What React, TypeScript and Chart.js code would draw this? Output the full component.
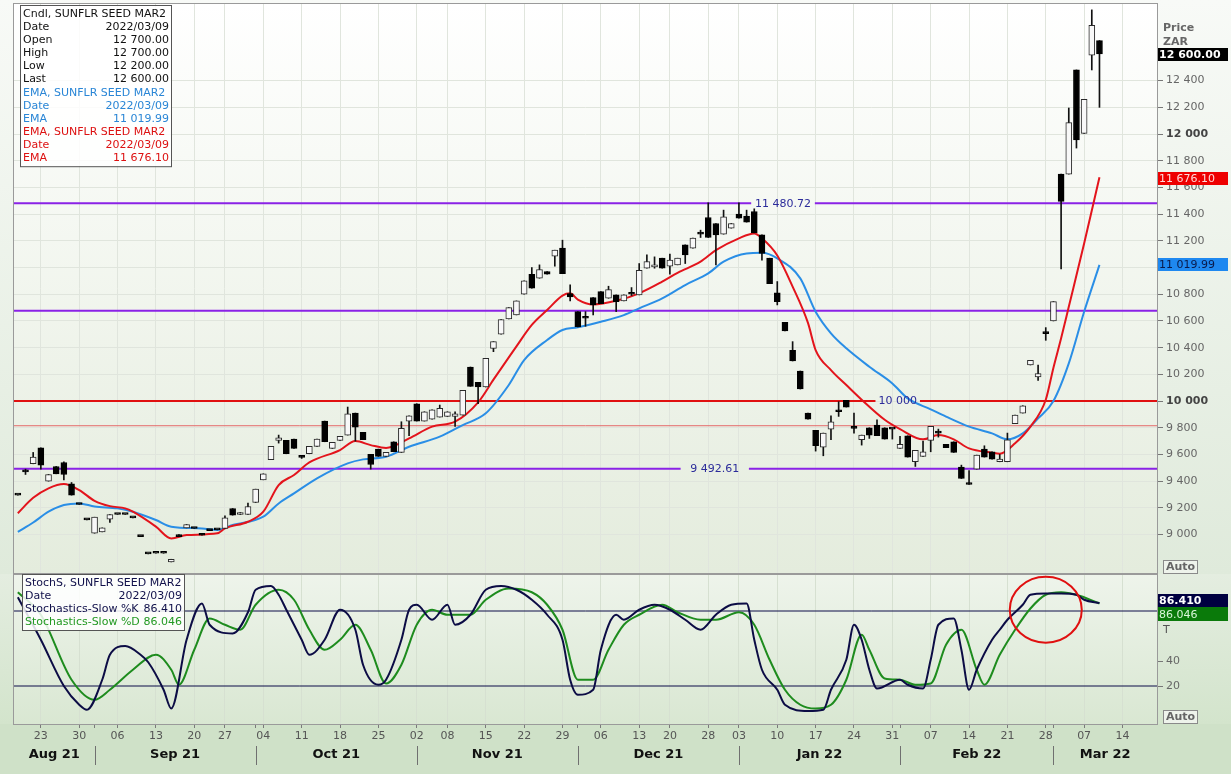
import React, { useEffect, useRef } from 'react';
import { Chart, registerables } from 'chart.js';

Chart.register(...registerables);

const FONT = '"DejaVu Sans", Verdana, sans-serif';

// ---- calendar (trading days) ----
const MONTH_NAMES = ['Aug 21', 'Sep 21', 'Oct 21', 'Nov 21', 'Dec 21', 'Jan 22', 'Feb 22', 'Mar 22'];
const MONTH_NUMBERS = [8, 9, 10, 11, 12, 1, 2, 3];
const DAYS_AUG = [18, 19, 20, 23, 24, 25, 26, 27, 30, 31];
const DAYS_SEP = [1, 2, 3, 6, 7, 8, 9, 10, 13, 14, 15, 16, 17, 20, 21, 22, 23, 27, 28, 29, 30];
const DAYS_OCT = [1, 4, 5, 6, 7, 8, 11, 12, 13, 14, 15, 18, 19, 20, 21, 22, 25, 26, 27, 28, 29];
const DAYS_NOV = [2, 3, 4, 5, 8, 9, 10, 11, 12, 15, 16, 17, 18, 19, 22, 23, 24, 25, 26, 29, 30];
const DAYS_DEC = [1, 2, 3, 6, 7, 8, 9, 10, 13, 14, 15, 17, 20, 21, 22, 23, 24, 28, 29, 30, 31];
const DAYS_JAN = [3, 4, 5, 6, 7, 10, 11, 12, 13, 14, 17, 18, 19, 20, 21, 24, 25, 26, 27, 28, 31];
const DAYS_FEB = [1, 2, 3, 4, 7, 8, 9, 10, 11, 14, 15, 16, 17, 18, 21, 22, 23, 24, 25, 28];
const DAYS_MAR = [1, 2, 3, 4, 7, 8, 9, 10, 11, 14, 15, 16, 17, 18];
const MONTH_DAYS = [DAYS_AUG, DAYS_SEP, DAYS_OCT, DAYS_NOV, DAYS_DEC, DAYS_JAN, DAYS_FEB, DAYS_MAR];

// weekly tick labels (month, day)
const WEEK_TICKS: [number, number][] = [
  [8, 23], [8, 30], [9, 6], [9, 13], [9, 20], [9, 27], [10, 4], [10, 11], [10, 18], [10, 25],
  [11, 2], [11, 8], [11, 15], [11, 22], [11, 29], [12, 6], [12, 13], [12, 20], [12, 28],
  [1, 3], [1, 10], [1, 17], [1, 24], [1, 31], [2, 7], [2, 14], [2, 21], [2, 28], [3, 7], [3, 14],
];

// ---- candles (Aug 18 2021 .. Mar 9 2022) ----
const OPEN = [
  9295, 9470, 9530, 9650, 9400, 9510, 9540, 9380, 9225, 9110,
  9010, 9020, 9115, 9150, 9150, 9125, 8985, 8855, 8860, 8860,
  8795, 9000, 9050, 9045, 9010, 9030, 9035, 9045, 9195, 9150,
  9150, 9240, 9410, 9560, 9705, 9705, 9715, 9578, 9605, 9660,
  9850, 9645, 9705, 9745, 9910, 9765, 9600, 9640, 9585, 9695,
  9615, 9850, 9980, 9850, 9865, 9880, 9885, 9885, 9895, 10255,
  10140, 10105, 10395, 10500, 10615, 10645, 10800, 10950, 10920, 10970,
  11085, 11145, 10805, 10670, 10620, 10775, 10820, 10770, 10795, 10750,
  10800, 10795, 10995, 11005, 11070, 11010, 11020, 11170, 11145, 11250,
  11375, 11330, 11250, 11295, 11400, 11385, 11420, 11245, 11070, 10810,
  10590, 10380, 10225, 9910, 9780, 9655, 9790, 9920, 10005, 9800,
  9710, 9800, 9820, 9800, 9790, 9645, 9740, 9545, 9585, 9705,
  9760, 9675, 9695, 9505, 9375, 9490, 9640, 9620, 9545, 9545,
  9830, 9910, 10270, 10180, 10505, 10600, 11700, 11700, 12480, 12005,
  12590, 12700,
];
const HIGH = [
  9295, 9490, 9615, 9650, 9450, 9510, 9545, 9390, 9225, 9110,
  9130, 9050, 9150, 9150, 9150, 9125, 8985, 8855, 8860, 8860,
  8815, 9000, 9075, 9045, 9010, 9030, 9035, 9140, 9195, 9165,
  9235, 9340, 9455, 9660, 9745, 9705, 9715, 9590, 9660, 9715,
  9850, 9690, 9735, 9955, 9910, 9765, 9600, 9640, 9615, 9695,
  9845, 9890, 9980, 9920, 9935, 9970, 9920, 9920, 10080, 10255,
  10140, 10320, 10445, 10610, 10700, 10750, 10900, 11000, 11020, 10970,
  11130, 11205, 10870, 10670, 10670, 10775, 10820, 10860, 10795, 10795,
  10850, 11030, 11095, 11080, 11070, 11100, 11070, 11170, 11220, 11280,
  11485, 11330, 11430, 11330, 11485, 11430, 11440, 11245, 11070, 10895,
  10590, 10445, 10225, 9910, 9780, 9760, 9890, 9995, 10005, 9910,
  9745, 9800, 9860, 9800, 9790, 9735, 9740, 9630, 9700, 9810,
  9790, 9675, 9695, 9520, 9480, 9595, 9665, 9620, 9600, 9760,
  9895, 9965, 10305, 10270, 10550, 10745, 11700, 12195, 12480, 12260,
  12930, 12700,
];
const LOW = [
  9295, 9450, 9530, 9490, 9400, 9455, 9410, 9295, 9225, 9110,
  9010, 9020, 9090, 9150, 9150, 9125, 8985, 8855, 8860, 8860,
  8795, 8985, 9050, 9045, 8995, 9030, 9035, 9045, 9145, 9150,
  9150, 9240, 9410, 9560, 9685, 9605, 9645, 9570, 9605, 9660,
  9695, 9645, 9705, 9745, 9700, 9710, 9490, 9585, 9585, 9620,
  9615, 9740, 9850, 9850, 9865, 9880, 9885, 9810, 9895, 10110,
  9980, 10105, 10370, 10500, 10615, 10645, 10800, 10845, 10920, 10950,
  11010, 10955, 10750, 10555, 10560, 10645, 10730, 10770, 10670, 10750,
  10790, 10795, 10995, 10995, 10995, 10950, 11020, 11030, 11145, 11225,
  11225, 11020, 11250, 11295, 11370, 11340, 11260, 11055, 10880, 10720,
  10525, 10300, 10090, 9865, 9625, 9590, 9710, 9885, 9955, 9760,
  9670, 9720, 9740, 9715, 9715, 9645, 9580, 9510, 9585, 9620,
  9730, 9650, 9615, 9420, 9375, 9490, 9580, 9565, 9545, 9545,
  9830, 9910, 10270, 10155, 10455, 10600, 10990, 11700, 11895, 12005,
  12480, 12200,
];
const CLOSE = [
  9295, 9470, 9580, 9520, 9450, 9455, 9450, 9295, 9225, 9110,
  9130, 9050, 9150, 9150, 9150, 9125, 8985, 8855, 8860, 8860,
  8815, 8985, 9075, 9045, 8995, 9030, 9035, 9125, 9145, 9165,
  9210, 9340, 9455, 9660, 9725, 9605, 9645, 9578, 9660, 9715,
  9695, 9690, 9735, 9905, 9805, 9710, 9525, 9585, 9615, 9620,
  9795, 9890, 9850, 9920, 9935, 9945, 9920, 9905, 10080, 10110,
  10105, 10320, 10445, 10610, 10700, 10750, 10900, 10845, 10985, 10950,
  11130, 10955, 10780, 10555, 10620, 10720, 10730, 10835, 10745, 10795,
  10800, 10980, 11045, 11010, 10995, 11055, 11070, 11095, 11220, 11250,
  11225, 11245, 11380, 11330, 11370, 11340, 11260, 11105, 10880, 10745,
  10525, 10300, 10090, 9865, 9665, 9760, 9845, 9920, 9955, 9795,
  9745, 9745, 9740, 9715, 9790, 9675, 9580, 9630, 9620, 9810,
  9760, 9650, 9615, 9420, 9375, 9595, 9580, 9565, 9565, 9710,
  9895, 9965, 10305, 10205, 10505, 10745, 11495, 12085, 11955, 12260,
  12815, 12600,
];

// ---- EMA readings (trading-day index, value) ----
const EMA_FAST: [number, number][] = [
  [0, 9160], [2, 9275], [4, 9346], [6, 9378], [8, 9333], [10, 9253], [12, 9213], [14, 9196], [15, 9171],
  [18, 9059], [20, 8971], [22, 8996], [26, 9009], [27, 9046], [30, 9096], [32, 9171], [34, 9371], [36, 9446],
  [38, 9540], [42, 9633], [44, 9700], [46, 9670], [48, 9648], [51, 9720], [54, 9808], [57, 9845], [60, 9990],
  [62, 10160], [65, 10410], [67, 10570], [69, 10682], [71, 10790], [72, 10807], [73, 10760], [75, 10724],
  [78, 10751], [81, 10807], [84, 10894], [86, 10960], [89, 11044], [91, 11130], [94, 11219], [96, 11255],
  [97, 11219], [99, 11090], [101, 10857], [103, 10585], [104, 10382], [106, 10232], [108, 10120], [110, 10010],
  [113, 9860], [115, 9790], [118, 9713], [120, 9745], [122, 9713], [124, 9645], [127, 9613], [128, 9605],
  [130, 9683], [132, 9808], [134, 10010], [135, 10250], [136, 10470], [137, 10706], [139, 11180], [141, 11676],
];
const EMA_SLOW: [number, number][] = [
  [0, 9020], [2, 9090], [4, 9171], [6, 9221], [8, 9233], [10, 9210], [13, 9196], [15, 9171], [18, 9109],
  [20, 9059], [24, 9046], [26, 9034], [28, 9071], [32, 9134], [34, 9233], [36, 9308], [39, 9421], [43, 9533],
  [45, 9563], [48, 9583], [51, 9658], [55, 9733], [58, 9820], [61, 9908], [64, 10120], [66, 10307], [69, 10457],
  [71, 10532], [73, 10552], [76, 10594], [79, 10644], [81, 10694], [84, 10769], [87, 10869], [90, 10956],
  [92, 11044], [95, 11106], [97, 11111], [99, 11069], [102, 10919], [104, 10669], [106, 10507], [108, 10395],
  [111, 10257], [114, 10132], [116, 10020], [119, 9938], [121, 9883], [124, 9808], [127, 9758], [129, 9713],
  [131, 9758], [133, 9870], [135, 10000], [137, 10282], [139, 10669], [141, 11020],
];

// ---- Stochastics slow readings (index, value) ----
const STOCH_K: [number, number][] = [
  [0, 91], [3, 57], [6, 20], [8, 5], [9, 1], [11, 25], [12, 45], [14, 52], [16, 45], [17, 39], [19, 17],
  [20, 2], [22, 57], [24, 86], [25, 69], [28, 62], [30, 79], [31, 97], [33, 100], [34, 93], [35, 81],
  [37, 57], [38, 45], [40, 57], [42, 81], [44, 65], [45, 37], [47, 21], [48, 25], [50, 57], [51, 81],
  [52, 85], [54, 73], [56, 85], [57, 69], [59, 77], [61, 97], [63, 100], [65, 97], [67, 89], [69, 77],
  [71, 57], [72, 25], [73, 13], [75, 17], [76, 49], [78, 77], [79, 73], [81, 81], [83, 85], [85, 81],
  [87, 73], [89, 65], [91, 77], [93, 85], [95, 86], [96, 57], [97, 33], [99, 17], [100, 5], [103, 0],
  [105, 1], [106, 17], [108, 41], [109, 69], [110, 57], [111, 33], [112, 18], [115, 25], [116, 21],
  [118, 18], [119, 41], [120, 69], [122, 74], [123, 49], [124, 17], [125, 33], [127, 57], [128, 65],
  [129, 73], [131, 85], [132, 93], [134, 94], [136, 94], [138, 93], [139, 89], [141, 86.41],
];
const STOCH_D: [number, number][] = [
  [0, 95], [3, 77], [7, 25], [10, 9], [12, 17], [15, 33], [18, 45], [20, 33], [21, 21], [23, 49], [25, 74],
  [27, 69], [29, 65], [31, 85], [34, 97], [36, 89], [38, 65], [40, 49], [42, 57], [44, 69], [46, 49],
  [48, 22], [50, 37], [52, 69], [54, 81], [56, 77], [59, 77], [61, 89], [64, 98], [67, 95], [69, 85],
  [71, 65], [73, 25], [75, 25], [77, 49], [79, 69], [81, 77], [84, 85], [86, 79], [89, 73], [91, 73],
  [94, 79], [96, 69], [98, 41], [100, 17], [102, 5], [104, 2], [106, 5], [108, 25], [110, 61], [111, 49],
  [113, 26], [115, 25], [117, 21], [119, 22], [121, 53], [123, 65], [125, 33], [126, 21], [128, 45],
  [130, 65], [132, 82], [134, 93], [136, 95], [138, 93], [141, 86.046],
];

// ---- axes / reference values ----
const PRICE_TICKS = [9000, 9200, 9400, 9600, 9800, 10000, 10200, 10400, 10600, 10800, 11000, 11200, 11400, 11600, 11800, 12000, 12200, 12400];
const PRICE_BOLD = [10000, 12000];
const PRICE_MIN = 8712;
const PRICE_MAX = 12974;
const STOCH_TICKS = [20, 40];
const STOCH_MIN = -10.4;
const STOCH_MAX = 108.8;
const STOCH_BANDS = [80, 20];

const LEVELS = [11480.72, 10676, 10000, 9815, 9492.61];
const LEVEL_COLORS = ['#8a22e6', '#8a22e6', '#e01010', '#e46a6a', '#8a22e6'];
const LEVEL_WIDTHS = [2, 2, 2, 1, 2];
const LEVEL_LABELS = ['11 480.72', '', '10 000', '', '9 492.61'];
const LEVEL_GAPS: ([number, number] | null)[] = [[95.6, 103.9], null, [111.8, 117.6], null, [86.4, 95.3]];

const PRICE_LEGEND: [string, string, string][] = [
  ['Cndl, SUNFLR SEED MAR2', '', '#111'],
  ['Date', '2022/03/09', '#111'],
  ['Open', '12 700.00', '#111'],
  ['High', '12 700.00', '#111'],
  ['Low', '12 200.00', '#111'],
  ['Last', '12 600.00', '#111'],
  ['EMA, SUNFLR SEED MAR2', '', '#2a86d6'],
  ['Date', '2022/03/09', '#2a86d6'],
  ['EMA', '11 019.99', '#2a86d6'],
  ['EMA, SUNFLR SEED MAR2', '', '#dd1111'],
  ['Date', '2022/03/09', '#dd1111'],
  ['EMA', '11 676.10', '#dd1111'],
];
const STOCH_LEGEND: [string, string, string][] = [
  ['StochS, SUNFLR SEED MAR2', '', '#10104a'],
  ['Date', '2022/03/09', '#10104a'],
  ['Stochastics-Slow %K', '86.410', '#10104a'],
  ['Stochastics-Slow %D', '86.046', '#229922'],
];

// ---- derived helpers ----
const DATES: { m: number; d: number; mi: number }[] = [];
MONTH_DAYS.forEach((days, mi) => days.forEach((d) => DATES.push({ m: MONTH_NUMBERS[mi], d, mi })));
const X_MIN = -0.5;
const X_MAX = DATES.length - 0.5;
const dateIndex = (m: number, d: number) => DATES.findIndex((t) => t.m === m && t.d === d);
const WEEK_IDX = WEEK_TICKS.map(([m, d]) => dateIndex(m, d));
const MONTH_START_IDX = MONTH_DAYS.map((_, mi) => DATES.findIndex((t) => t.mi === mi));
const X_TICKS = Array.from(new Set([...WEEK_IDX, ...MONTH_START_IDX.slice(1)])).sort((a, b) => a - b);
const fmt = (v: number) => String(v).replace(/\B(?=(\d{3})+(?!\d))/g, ' ');

const noPadding = (s: any) => {
  s.paddingTop = 0;
  s.paddingBottom = 0;
  s.paddingLeft = 0;
  s.paddingRight = 0;
};

function drawLegend(ctx: CanvasRenderingContext2D, x: number, y: number, w: number, rows: [string, string, string][], lh: number) {
  const h = rows.length * lh + 4;
  ctx.save();
  ctx.fillStyle = 'rgba(255,255,255,0.85)';
  ctx.fillRect(x, y, w, h);
  ctx.strokeStyle = '#555';
  ctx.lineWidth = 1;
  ctx.strokeRect(x + 0.5, y + 0.5, w, h);
  ctx.font = `11px ${FONT}`;
  ctx.textBaseline = 'middle';
  rows.forEach(([l, r, c], i) => {
    const yy = y + 2 + lh * (i + 0.5) + 0.5;
    ctx.fillStyle = c;
    ctx.textAlign = 'left';
    ctx.fillText(l, x + 3, yy);
    if (r) {
      ctx.textAlign = 'right';
      ctx.fillText(r, x + w - 2, yy);
    }
  });
  ctx.restore();
}

function drawTag(ctx: CanvasRenderingContext2D, x: number, yc: number, w: number, h: number, bg: string, fg: string, text: string, bold: boolean) {
  ctx.save();
  ctx.fillStyle = bg;
  ctx.fillRect(x, Math.round(yc - h / 2), w, h);
  ctx.fillStyle = fg;
  ctx.font = `${bold ? 'bold ' : ''}11px ${FONT}`;
  ctx.textAlign = 'left';
  ctx.textBaseline = 'middle';
  ctx.fillText(text, x + 1, yc + 0.5);
  ctx.restore();
}

function drawAuto(ctx: CanvasRenderingContext2D, x: number, y: number) {
  ctx.save();
  ctx.fillStyle = '#eef3eb';
  ctx.fillRect(x, y, 34, 13);
  ctx.strokeStyle = '#8a8a8a';
  ctx.lineWidth = 1;
  ctx.strokeRect(x + 0.5, y + 0.5, 34, 13);
  ctx.fillStyle = '#666';
  ctx.font = `bold 11px ${FONT}`;
  ctx.textAlign = 'left';
  ctx.textBaseline = 'middle';
  ctx.fillText('Auto', x + 3, y + 7.5);
  ctx.restore();
}

const pricePlugin = {
  id: 'priceDeco',
  beforeDraw(chart: any) {
    const { ctx, chartArea: a, width, height } = chart;
    ctx.save();
    const g = ctx.createLinearGradient(0, 0, 0, height);
    g.addColorStop(0, '#f8faf7');
    g.addColorStop(1, '#dfeadb');
    ctx.fillStyle = g;
    ctx.fillRect(0, 0, width, height);
    const g2 = ctx.createLinearGradient(0, a.top, 0, a.bottom);
    g2.addColorStop(0, '#ffffff');
    g2.addColorStop(1, '#e4ecdd');
    ctx.fillStyle = g2;
    ctx.fillRect(a.left, a.top, a.right - a.left, a.bottom - a.top);
    ctx.restore();
  },
  afterDatasetsDraw(chart: any) {
    const { ctx } = chart;
    const xs = chart.scales.x;
    const ys = chart.scales.y;
    ctx.save();
    ctx.font = `11px ${FONT}`;
    ctx.fillStyle = '#2b2b9a';
    ctx.textAlign = 'center';
    ctx.textBaseline = 'middle';
    LEVELS.forEach((v, i) => {
      const gap = LEVEL_GAPS[i];
      if (!gap || !LEVEL_LABELS[i]) return;
      const cx = (xs.getPixelForValue(gap[0]) + xs.getPixelForValue(gap[1])) / 2;
      ctx.fillText(LEVEL_LABELS[i], cx, ys.getPixelForValue(v) + 0.5);
    });
    ctx.restore();
  },
  afterDraw(chart: any) {
    const { ctx, chartArea: a } = chart;
    const ys = chart.scales.y;
    ctx.save();
    ctx.strokeStyle = '#9a9a9a';
    ctx.lineWidth = 1;
    ctx.strokeRect(a.left - 0.5, a.top - 0.5, a.right - a.left + 1, a.bottom - a.top + 1);
    ctx.restore();
    drawLegend(ctx, 20, 5, 151, PRICE_LEGEND, 13.1);
    ctx.save();
    ctx.fillStyle = '#666';
    ctx.font = `bold 11px ${FONT}`;
    ctx.textAlign = 'left';
    ctx.textBaseline = 'middle';
    ctx.fillText('Price', a.right + 6, 28);
    ctx.fillText('ZAR', a.right + 6, 42);
    ctx.restore();
    drawTag(ctx, a.right + 1, ys.getPixelForValue(CLOSE[CLOSE.length - 1]) + 1, 70, 13, '#000000', '#ffffff', '12 600.00', true);
    drawTag(ctx, a.right + 1, ys.getPixelForValue(EMA_FAST[EMA_FAST.length - 1][1]) + 1, 70, 13, '#ee0000', '#ffd8d8', '11 676.10', false);
    drawTag(ctx, a.right + 1, ys.getPixelForValue(EMA_SLOW[EMA_SLOW.length - 1][1]), 70, 13, '#1e88f0', '#0a1a4a', '11 019.99', false);
    drawAuto(ctx, a.right + 6, a.bottom - 13);
  },
};

const stochPlugin = {
  id: 'stochDeco',
  beforeDraw(chart: any) {
    const { ctx, chartArea: a, width, height } = chart;
    ctx.save();
    ctx.fillStyle = '#cfe1c8';
    ctx.fillRect(0, 0, width, height);
    const g = ctx.createLinearGradient(0, 0, 0, a.bottom);
    g.addColorStop(0, '#e4ede0');
    g.addColorStop(1, '#d3e4cc');
    ctx.fillStyle = g;
    ctx.fillRect(0, 0, width, a.bottom);
    const g2 = ctx.createLinearGradient(0, a.top, 0, a.bottom);
    g2.addColorStop(0, '#eef4eb');
    g2.addColorStop(1, '#d9e7d2');
    ctx.fillStyle = g2;
    ctx.fillRect(a.left, a.top, a.right - a.left, a.bottom - a.top);
    ctx.restore();
  },
  afterDraw(chart: any) {
    const { ctx, chartArea: a } = chart;
    const xs = chart.scales.x;
    const ys = chart.scales.y;
    ctx.save();
    ctx.strokeStyle = '#9a9a9a';
    ctx.lineWidth = 1;
    ctx.strokeRect(a.left - 0.5, a.top - 0.5, a.right - a.left + 1, a.bottom - a.top + 1);
    // red circle annotation
    ctx.strokeStyle = '#e01010';
    ctx.lineWidth = 2;
    ctx.beginPath();
    ctx.ellipse(xs.getPixelForValue(134), ys.getPixelForValue(81), 36, 33, 0, 0, Math.PI * 2);
    ctx.stroke();
    // month row
    ctx.font = `bold 13px ${FONT}`;
    ctx.fillStyle = '#111';
    ctx.textAlign = 'center';
    ctx.textBaseline = 'middle';
    ctx.strokeStyle = '#707070';
    ctx.lineWidth = 1;
    MONTH_NAMES.forEach((name, mi) => {
      const left = mi === 0 ? a.left : xs.getPixelForValue(MONTH_START_IDX[mi]);
      const right = mi === MONTH_NAMES.length - 1 ? a.right : xs.getPixelForValue(MONTH_START_IDX[mi + 1]);
      ctx.fillText(name, (left + right) / 2, a.bottom + 31);
      if (mi > 0) {
        const px = Math.round(left) + 0.5;
        ctx.beginPath();
        ctx.moveTo(px, a.bottom + 22);
        ctx.lineTo(px, a.bottom + 41);
        ctx.stroke();
      }
    });
    ctx.restore();
    drawLegend(ctx, 22, 0, 162, STOCH_LEGEND, 13);
    drawTag(ctx, a.right + 1, ys.getPixelForValue(86.41) - 2, 70, 13, '#000040', '#ffffff', '86.410', true);
    drawTag(ctx, a.right + 1, ys.getPixelForValue(86.046) + 11, 70, 14, '#0a7a0a', '#d8f5d8', '86.046', false);
    ctx.save();
    ctx.fillStyle = '#555';
    ctx.font = `11px ${FONT}`;
    ctx.textAlign = 'left';
    ctx.textBaseline = 'middle';
    ctx.fillText('T', a.right + 6, 56);
    ctx.restore();
    drawAuto(ctx, a.right + 6, a.bottom - 14);
  },
};

const toXY = (arr: [number, number][]) => arr.map(([x, y]) => ({ x, y }));

function levelData(v: number, gap: [number, number] | null) {
  if (!gap) return [{ x: X_MIN, y: v }, { x: X_MAX, y: v }];
  return [
    { x: X_MIN, y: v },
    { x: gap[0], y: v },
    { x: gap[0] + 0.01, y: null },
    { x: gap[1], y: v },
    { x: X_MAX, y: v },
  ];
}

export default function App() {
  const priceRef = useRef<HTMLCanvasElement>(null);
  const stochRef = useRef<HTMLCanvasElement>(null);

  useEffect(() => {
    const bodies = OPEN.map((o, i) => ({ x: i, y: [o, CLOSE[i]] }));
    const wicks = OPEN.map((_, i) => ({ x: i, y: [LOW[i], HIGH[i]] }));
    const bodyFill = OPEN.map((o, i) => (CLOSE[i] > o ? '#f8f8f8' : '#000000'));
    const bodyBorder = OPEN.map((o, i) => (CLOSE[i] > o ? '#2a2a2a' : '#000000'));

    const levelSets = LEVELS.map((v, i) => ({
      type: 'line',
      data: levelData(v, LEVEL_GAPS[i]),
      borderColor: LEVEL_COLORS[i],
      borderWidth: LEVEL_WIDTHS[i],
      pointRadius: 0,
      spanGaps: false,
      order: 10,
    }));

    const price = new Chart(priceRef.current!, {
      type: 'bar',
      data: {
        datasets: [
          ...levelSets,
          {
            type: 'line',
            data: toXY(EMA_SLOW),
            borderColor: '#2a8ee6',
            borderWidth: 2,
            pointRadius: 0,
            cubicInterpolationMode: 'monotone',
            order: 6,
          },
          {
            type: 'line',
            data: toXY(EMA_FAST),
            borderColor: '#e3141c',
            borderWidth: 2,
            pointRadius: 0,
            cubicInterpolationMode: 'monotone',
            order: 5,
          },
          {
            type: 'bar',
            data: wicks,
            backgroundColor: '#111111',
            barThickness: 1,
            grouped: false,
            minBarLength: 0,
            order: 2,
          },
          {
            type: 'bar',
            data: bodies,
            backgroundColor: bodyFill,
            borderColor: bodyBorder,
            borderWidth: 1,
            borderSkipped: false,
            barThickness: 6,
            grouped: false,
            minBarLength: 2,
            order: 1,
          },
        ] as any,
      },
      options: {
        responsive: false,
        animation: false,
        events: [],
        layout: { padding: { left: 14, top: 4, right: 0, bottom: 1 } },
        plugins: { legend: { display: false }, tooltip: { enabled: false } },
        scales: {
          x: {
            type: 'linear',
            offset: false,
            min: X_MIN,
            max: X_MAX,
            afterBuildTicks: (s: any) => { s.ticks = WEEK_IDX.map((v) => ({ value: v })); },
            afterFit: (s: any) => { s.height = 0; noPadding(s); },
            ticks: { display: false },
            grid: { color: '#e0e5dd', drawTicks: false, offset: false },
            border: { display: false },
          },
          y: {
            type: 'linear',
            position: 'right',
            min: PRICE_MIN,
            max: PRICE_MAX,
            afterBuildTicks: (s: any) => { s.ticks = PRICE_TICKS.map((v) => ({ value: v })); },
            afterFit: (s: any) => { s.width = 74; noPadding(s); },
            ticks: {
              padding: 3,
              color: (c: any) => (c.tick && PRICE_BOLD.includes(c.tick.value) ? '#444' : '#666'),
              font: (c: any) => ({ family: FONT, size: 11, weight: c.tick && PRICE_BOLD.includes(c.tick.value) ? 'bold' : 'normal' }),
              callback: (v: any) => fmt(Number(v)),
            },
            grid: { color: '#e0e5dd', tickColor: '#777', tickLength: 6 },
            border: { display: false },
          },
        },
      } as any,
      plugins: [pricePlugin],
    });

    const stoch = new Chart(stochRef.current!, {
      type: 'line',
      data: {
        datasets: [
          ...STOCH_BANDS.map((b) => ({
            data: [{ x: X_MIN, y: b }, { x: X_MAX, y: b }],
            borderColor: '#0c0c48',
            borderWidth: 1,
            pointRadius: 0,
            order: 5,
          })),
          {
            data: toXY(STOCH_D),
            borderColor: '#1e8c1e',
            borderWidth: 2,
            pointRadius: 0,
            cubicInterpolationMode: 'monotone',
            order: 2,
          },
          {
            data: toXY(STOCH_K),
            borderColor: '#0c0c45',
            borderWidth: 2,
            pointRadius: 0,
            cubicInterpolationMode: 'monotone',
            order: 1,
          },
        ] as any,
      },
      options: {
        responsive: false,
        animation: false,
        events: [],
        layout: { padding: { left: 14, top: 1, right: 0, bottom: 0 } },
        plugins: { legend: { display: false }, tooltip: { enabled: false } },
        scales: {
          x: {
            type: 'linear',
            offset: false,
            min: X_MIN,
            max: X_MAX,
            afterBuildTicks: (s: any) => { s.ticks = X_TICKS.map((v) => ({ value: v })); },
            afterFit: (s: any) => { s.height = 50; noPadding(s); },
            ticks: {
              autoSkip: false,
              maxRotation: 0,
              padding: 2,
              color: '#555',
              font: { family: FONT, size: 11 },
              callback: (v: any) => {
                const k = WEEK_IDX.indexOf(Number(v));
                return k >= 0 ? String(WEEK_TICKS[k][1]).padStart(2, '0') : '';
              },
            },
            grid: {
              color: (c: any) => (c.tick && WEEK_IDX.includes(c.tick.value) ? '#d6e0d1' : 'rgba(0,0,0,0)'),
              tickColor: '#7a7a7a',
              tickLength: 4,
            },
            border: { display: false },
          },
          y: {
            type: 'linear',
            position: 'right',
            min: STOCH_MIN,
            max: STOCH_MAX,
            afterBuildTicks: (s: any) => { s.ticks = STOCH_TICKS.map((v) => ({ value: v })); },
            afterFit: (s: any) => { s.width = 74; noPadding(s); },
            ticks: { padding: 3, color: '#666', font: { family: FONT, size: 11 } },
            grid: { color: 'rgba(0,0,0,0)', tickColor: '#777', tickLength: 6 },
            border: { display: false },
          },
        },
      } as any,
      plugins: [stochPlugin],
    });

    return () => {
      price.destroy();
      stoch.destroy();
    };
  }, []);

  return (
    <div style={{ position: 'absolute', left: 0, top: 0, width: 1231, height: 774, background: '#cfe1c8', overflow: 'hidden' }}>
      <canvas ref={priceRef} width={1231} height={574} style={{ position: 'absolute', left: 0, top: 0, width: 1231, height: 574 }} />
      <canvas ref={stochRef} width={1231} height={200} style={{ position: 'absolute', left: 0, top: 574, width: 1231, height: 200 }} />
    </div>
  );
}
